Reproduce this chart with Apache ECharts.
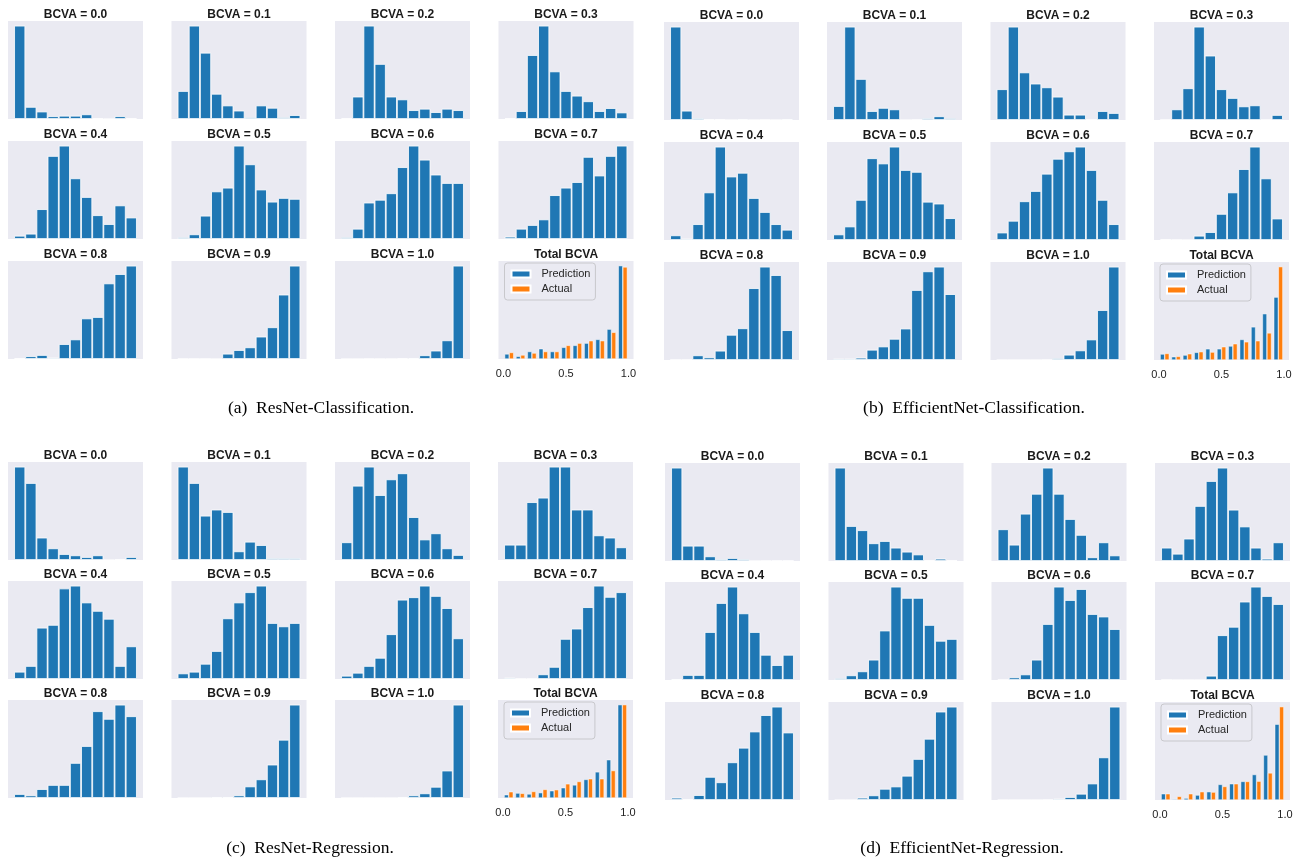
<!DOCTYPE html>
<html>
<head>
    <meta charset="utf-8">
    <script src="https://cdn.jsdelivr.net/npm/echarts@6/dist/echarts.min.js"></script>
    <style>
        *{
            margin:0;
            padding:0;
        }
        body{ background:#fff; }
    </style>
</head>
<body>
    <div id="main" style="width:1306px;height:860px;"></div>
    <script type="text/javascript">

    // BCVA level of each small histogram
    var bcvaLevels = ['0.0','0.1','0.2','0.3','0.4','0.5','0.6','0.7','0.8','0.9','1.0'];
    var totalTicks = [0, 0.5, 1.0];
    var nBins = 11;

    // histogram heights (relative to tallest bar = 100), one row per BCVA level
    var resnetCls = [
        [100, 13, 8, 3, 3.5, 3.5, 5, 0.7, 0, 3, 0.7],
        [30, 100, 71, 27, 14.5, 9, 1.8, 14.5, 12, 1.8, 4.2],
        [0.7, 24, 100, 59, 24, 21, 9.5, 11, 7.4, 11, 9.5],
        [0.7, 8.5, 68.5, 100, 51, 30, 25, 19, 8.5, 11.7, 7],
        [3.5, 5.7, 32, 89, 100, 65, 45, 25.5, 16, 36, 23],
        [1.8, 5, 25, 51, 55, 100, 80, 53, 40, 44, 43],
        [1.8, 11, 39, 42, 49, 77, 100, 85, 69, 60, 60],
        [2.5, 11, 15, 21, 47, 55, 61, 88, 68, 89, 100],
        [0.7, 3, 4.3, 1.4, 16, 21, 43.5, 45, 81, 91, 100],
        [0.4, 0.4, 0.4, 0, 5.7, 9.6, 12.5, 24, 34, 69, 100],
        [0, 0, 0.4, 0.2, 0.2, 0.7, 1, 4, 9, 20, 100]
    ];
    var resnetClsPred = [5.4, 2.9, 8, 11, 8, 12.5, 14.6, 17, 21, 32, 100];
    var resnetClsActual = [7, 4.3, 6.4, 8, 8, 14.6, 17, 19.6, 19.6, 28.6, 98.6];

    var effnetCls = [
        [100, 10, 2, 0.7, 0.7, 0, 1, 0, 0.3, 0, 1],
        [15, 100, 44, 9.6, 13, 11.4, 0, 0.5, 2, 4, 1.8],
        [33, 100, 51, 39, 35, 25, 5.7, 5.7, 0.4, 9.6, 7.5],
        [0.4, 11.4, 34, 100, 69, 33, 23.6, 14.6, 15.7, 0.4, 5.4],
        [5, 1.4, 17, 51, 100, 68, 72, 45, 30, 17, 11],
        [6, 14.5, 43, 87.6, 82, 100, 75, 73, 41, 39, 23.4],
        [8, 20.6, 41.5, 52.5, 71, 87, 95, 100, 75, 43, 17],
        [0.7, 0.3, 0, 4.6, 8.5, 28, 51, 76, 100, 66, 23],
        [0.3, 0.3, 5, 2.8, 10, 27, 34, 77, 100, 91, 32],
        [1.4, 1.4, 2.5, 11, 14.5, 22.7, 33.7, 75, 95, 100, 70.6],
        [0, 0, 0, 0, 0.3, 1.8, 5.7, 10.3, 22, 53.5, 100]
    ];
    var effnetClsPred = [6.4, 3.5, 5.3, 8.2, 12, 12, 15, 22, 35.5, 49.6, 67.4];
    var effnetClsActual = [7, 3.9, 6.7, 8.9, 8.5, 14.2, 17.4, 19.5, 20.6, 29, 100];

    var resnetReg = [
        [100, 82.5, 24, 12.5, 6.4, 5, 3.2, 5, 0, 0.7, 3.2],
        [100, 82.5, 47.5, 54, 51.4, 9.3, 19.6, 16, 2, 2, 2],
        [19, 79.6, 100, 69.6, 86.4, 92.9, 46, 22, 28.6, 12.5, 5.4],
        [16.4, 16.4, 62, 66.8, 100, 100, 54, 54, 26.4, 24, 13.6],
        [7.8, 14, 55, 58, 97, 100, 82, 73, 64.5, 14, 35],
        [6, 7.8, 16.3, 30, 65, 82, 93, 100, 60, 56.4, 60],
        [3.5, 6.7, 14, 22.7, 48, 85, 87.6, 100, 89, 76, 43.6],
        [1.4, 0.4, 0.4, 5, 13, 43, 54, 77, 100, 88, 93],
        [4.3, 2.8, 9.6, 14, 14, 37.6, 55.7, 93, 84.8, 100, 87.6],
        [0, 0, 0, 1, 1, 2.8, 12.4, 20, 35.8, 62.4, 100],
        [0, 0, 0, 0, 0, 1, 2.8, 5, 12, 29.4, 100]
    ];
    var resnetRegPred = [3.5, 5.3, 4.3, 5.7, 7.8, 11, 14, 19.9, 28, 41, 100];
    var resnetRegActual = [6.7, 5, 7, 9.2, 8.9, 15.2, 17.7, 20.6, 20.6, 29.4, 100];

    var effnetReg = [
        [100, 16.4, 16.4, 5, 2, 3.2, 2, 0, 0.3, 0.5, 0.5],
        [100, 37.5, 33, 19, 21.4, 14.3, 10, 7, 0.7, 2.5, 0.7],
        [34, 17.5, 50.7, 72, 100, 72, 45, 28, 4, 20, 6],
        [14.3, 7.8, 24, 59, 85.7, 100, 55, 37, 14.3, 2.5, 20],
        [1, 5.4, 5.4, 51.4, 82.5, 100, 71.4, 51.4, 27, 16, 27],
        [1.8, 5, 9.3, 21.8, 53, 100, 88, 88, 59, 42, 44],
        [0.4, 2.8, 6, 21.8, 60, 100, 85.7, 97.5, 70.7, 68, 54.6],
        [0.3, 0, 0, 0, 4.6, 48, 57, 84, 100, 90, 81.4],
        [2.5, 1, 5.3, 24.8, 19, 40.4, 56, 73.4, 91, 100, 72.3],
        [0, 0, 2.5, 5, 12, 14.5, 26, 44, 65.6, 94.7, 100],
        [0, 0, 0, 0, 0.4, 1.4, 3.2, 6.7, 17.7, 45.7, 100]
    ];
    var effnetRegPred = [6.7, 1, 2, 5.3, 8.9, 16.7, 17.4, 19.9, 27.3, 48.2, 81.2];
    var effnetRegActual = [6.7, 3.9, 6.7, 8.9, 8.5, 14.5, 17.4, 19.9, 20.2, 29, 100];

    // layout of the four sub-figures
    var panels = [
        {hist: resnetCls, pred: resnetClsPred, actual: resnetClsActual,
         colLeft: [8, 171.5, 335, 498.5], rowTop: [21, 141, 261],
         caption: '(a)  ResNet-Classification.', capX: 321, capY: 408},
        {hist: effnetCls, pred: effnetClsPred, actual: effnetClsActual,
         colLeft: [664, 827, 990.5, 1154], rowTop: [22, 142, 262],
         caption: '(b)  EfficientNet-Classification.', capX: 974, capY: 408},
        {hist: resnetReg, pred: resnetRegPred, actual: resnetRegActual,
         colLeft: [8, 171.5, 335, 498], rowTop: [462, 581, 700],
         caption: '(c)  ResNet-Regression.', capX: 310, capY: 848},
        {hist: effnetReg, pred: effnetRegPred, actual: effnetRegActual,
         colLeft: [665, 828.5, 991.5, 1155], rowTop: [463, 582, 702],
         caption: '(d)  EfficientNet-Regression.', capX: 962, capY: 848}
    ];

    var W = 135, H = 98;
    var SANS = 'Liberation Sans, Arial, sans-serif';
    var BLUE = '#1f77b4', ORANGE = '#ff7f0e', BG = '#EAEAF2';

    var binCenters = [];
    for (var i = 0; i < nBins; i++) binCenters.push((i + 0.5) / nBins);

    function pairs(vals) {
        return vals.map(function (v, i) { return [binCenters[i], v]; });
    }

    var grids = [], xAxes = [], yAxes = [], series = [], graphics = [], legends = [];

    panels.forEach(function (p) {
        for (var k = 0; k < 12; k++) {
            var col = k % 4, row = Math.floor(k / 4);
            var left = p.colLeft[col], top = p.rowTop[row];
            var gi = grids.length;
            var isTotal = (k === 11);

            grids.push({left: left, top: top, width: W, height: H,
                        show: true, backgroundColor: BG, borderWidth: 0});
            yAxes.push({gridIndex: gi, type: 'value', min: 0, max: 105, show: false});

            if (!isTotal) {
                xAxes.push({gridIndex: gi, type: 'value', min: -0.05, max: 1.05, show: false});
                series.push({
                    type: 'bar', xAxisIndex: gi, yAxisIndex: gi,
                    barWidth: W / 1.1 / nBins,
                    itemStyle: {color: BLUE, borderColor: '#fff', borderWidth: 0.8},
                    data: pairs(p.hist[k])
                });
            } else {
                xAxes.push({
                    gridIndex: gi, type: 'value', min: -0.04, max: 1.04,
                    axisLine: {show: false}, axisTick: {show: false}, splitLine: {show: false},
                    axisLabel: {
                        customValues: totalTicks, margin: 9,
                        fontSize: 11, color: '#222', fontFamily: SANS,
                        formatter: function (v) { return Number(v).toFixed(1); }
                    }
                });
                var bw = 0.8 / nBins / 2 * W / 1.08;
                series.push({
                    name: 'Prediction', type: 'bar', xAxisIndex: gi, yAxisIndex: gi,
                    barWidth: bw, barGap: '0%',
                    itemStyle: {color: BLUE, borderColor: '#fff', borderWidth: 0.5},
                    data: pairs(p.pred)
                });
                series.push({
                    name: 'Actual', type: 'bar', xAxisIndex: gi, yAxisIndex: gi,
                    barWidth: bw, barGap: '0%',
                    itemStyle: {color: ORANGE, borderColor: '#fff', borderWidth: 0.5},
                    data: pairs(p.actual)
                });
                legends.push({
                    orient: 'vertical', left: left + 6, top: top + 2,
                    data: ['Prediction', 'Actual'], icon: 'rect',
                    itemWidth: 19, itemHeight: 7, itemGap: 1,
                    padding: [4, 5, 4, 6],
                    backgroundColor: BG, borderColor: '#c8c8cc', borderWidth: 1, borderRadius: 3,
                    selectedMode: false,
                    textStyle: {fontSize: 11, fontFamily: SANS, color: '#262626',
                                lineHeight: 14, padding: [0, 0, 0, 6]}
                });
            }

            graphics.push({
                type: 'text', x: left + W / 2, y: top - 6, silent: true,
                style: {
                    text: isTotal ? 'Total BCVA' : 'BCVA = ' + bcvaLevels[k],
                    fontSize: 12, fontWeight: 'bold', fontFamily: SANS, fill: '#1a1a1a',
                    align: 'center', verticalAlign: 'middle'
                }
            });
        }
        graphics.push({
            type: 'text', x: p.capX, y: p.capY, silent: true,
            style: {
                text: p.caption, fontSize: 17.5, fontFamily: 'Liberation Serif, Times New Roman, serif',
                fill: '#000', align: 'center', verticalAlign: 'middle'
            }
        });
    });

    var myChart = echarts.init(document.getElementById('main'));
    myChart.setOption({
        animation: false,
        grid: grids,
        xAxis: xAxes,
        yAxis: yAxes,
        legend: legends,
        series: series,
        graphic: graphics
    });
</script>
</body>
</html>
